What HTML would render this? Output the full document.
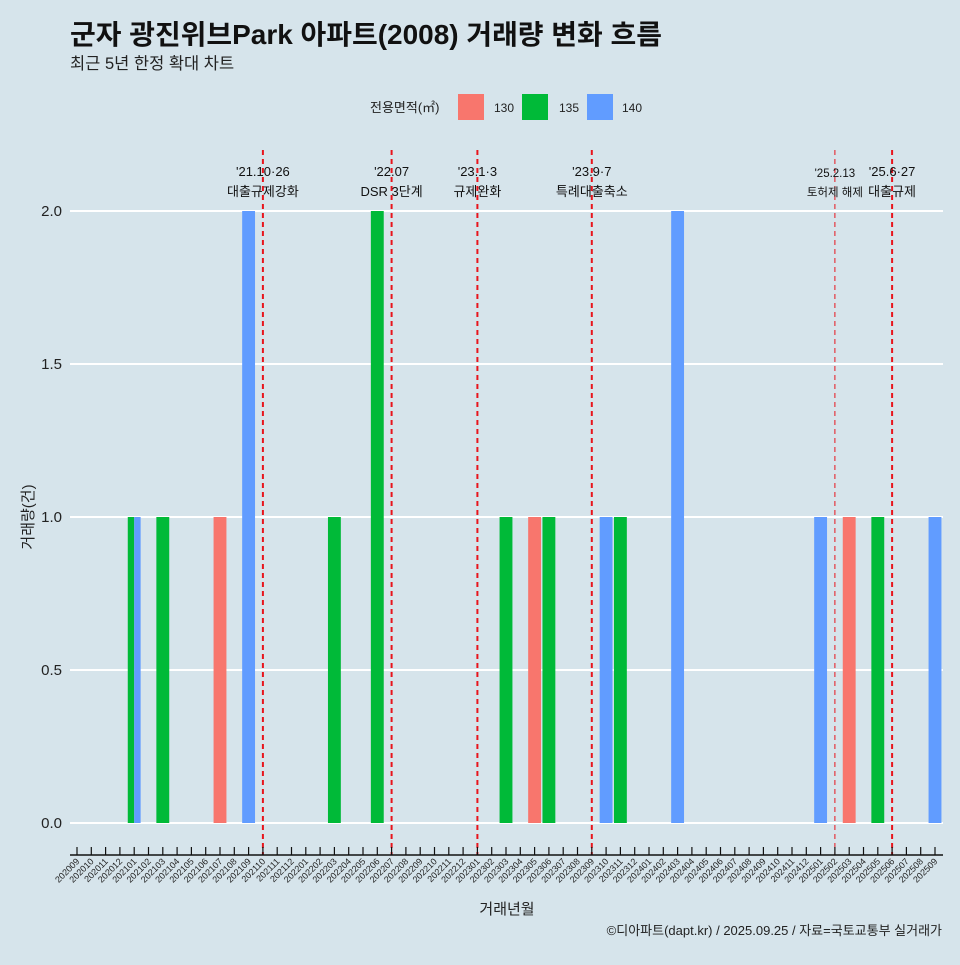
<!DOCTYPE html>
<html><head><meta charset="utf-8"><style>
body{margin:0;background:#d6e4eb;}
svg text{font-family:"Liberation Sans","Noto Sans CJK KR",sans-serif;}
</style></head><body>
<svg id="c" width="960" height="960" viewBox="0 0 960 960" xmlns="http://www.w3.org/2000/svg">
<rect width="960" height="960" fill="#d6e4eb"/>
<text x="70" y="44" font-size="27.5" font-weight="bold" fill="#111" textLength="592" lengthAdjust="spacingAndGlyphs">군자 광진위브Park 아파트(2008) 거래량 변화 흐름</text>
<text x="70" y="69" font-size="16.5" fill="#222">최근 5년 한정 확대 차트</text>
<g>
<text x="370" y="112" font-size="13" fill="#222">전용면적(㎡)</text>
<rect x="458" y="94" width="26" height="26" fill="#f8766d"/><text x="494" y="112" font-size="12" fill="#222">130</text>
<rect x="522" y="94" width="26" height="26" fill="#00ba38"/><text x="559" y="112" font-size="12" fill="#222">135</text>
<rect x="587" y="94" width="26" height="26" fill="#619cff"/><text x="622" y="112" font-size="12" fill="#222">140</text>
</g>
<g id="grid"></g><g id="bars"></g><g id="events"></g><g id="axes"></g>
<text x="507" y="914" font-size="15" text-anchor="middle" fill="#222">거래년월</text>
<text transform="translate(33,517) rotate(-90)" font-size="15" text-anchor="middle" fill="#222">거래량(건)</text>
<text x="942" y="935" font-size="13" text-anchor="end" fill="#222">©디아파트(dapt.kr) / 2025.09.25 / 자료=국토교통부 실거래가</text>
</svg>
<script>
const months=[];for(let y=2020,m=9;y*100+m<=202509;){months.push(String(y*100+m));m++;if(m>12){m=1;y++;}}
const areas=["130","135","140"];
const colors={"130":"#f8766d","135":"#00ba38","140":"#619cff"};
const tradeMonths=["202101","202101","202103","202107","202109","202203","202206","202303","202305","202306","202310","202311","202403","202501","202503","202505","202509"];
const tradeAreas =["135","140","135","130","140","135","135","135","130","135","140","135","140","140","130","135","140"];
const tradeCounts=[1,1,1,1,2,1,2,1,1,1,1,1,2,1,1,1,1];
const yTicks=[0,0.5,1,1.5,2];
const yTickLabels=["0.0","0.5","1.0","1.5","2.0"];
const eventMonths=["202110","202207","202301","202309","202502","202506"];
const eventLine1=["'21.10·26","'22.07","'23.1·3","'23.9·7","'25.2.13","'25.6·27"];
const eventLine2=["대출규제강화","DSR 3단계","규제완화","특례대출축소","토허제 해제","대출규제"];
const NS="http://www.w3.org/2000/svg";
const step=(935-77)/(months.length-1);
const xs=i=>77+i*step;
const ys=v=>823-v*306;
function mk(t,a,p){const e=document.createElementNS(NS,t);for(const k in a)e.setAttribute(k,a[k]);p.appendChild(e);return e;}
const G=document.getElementById('grid'),B=document.getElementById('bars'),E=document.getElementById('events'),A=document.getElementById('axes');
yTicks.forEach((v,i)=>{
 const l=mk('line',{x1:70,x2:943,y1:ys(v),y2:ys(v),stroke:'#fff','stroke-width':2},G);
 
 
 const t=mk('text',{x:62,y:ys(v)+5,'font-size':15,'text-anchor':'end',fill:'#222'},A);
 t.textContent=yTickLabels[i];
 
 
});
const bw=step*0.9;
months.forEach((m,i)=>{
 const idx=[];tradeMonths.forEach((tm,j)=>{if(tm===m)idx.push(j);});
 idx.sort((a,b)=>areas.indexOf(tradeAreas[a])-areas.indexOf(tradeAreas[b]));
 const w=bw/(idx.length||1);
 idx.forEach((j,k)=>{
  const r=mk('rect',{x:xs(i)-bw/2+k*w,y:ys(tradeCounts[j]),width:w,height:ys(0)-ys(tradeCounts[j]),fill:colors[tradeAreas[j]]},B);
  
  
 });
});
eventMonths.forEach((m,i)=>{
 const x=xs(months.indexOf(m));const thin=m==="202502";
 const l=mk('line',{x1:x,x2:x,y1:150,y2:855,stroke:'#e8141c','stroke-width':thin?1:2,'stroke-dasharray':'5,4'},E);
 
 
 const fs=thin?11.5:13;
 const t1=mk('text',{x:x,y:thin?177:176,'font-size':fs,'text-anchor':'middle',fill:'#111'},E);
 t1.textContent=eventLine1[i];
 
 
 const t2=mk('text',{x:x,y:196,'font-size':fs,'text-anchor':'middle',fill:'#111'},E);
 t2.textContent=eventLine2[i];
 
 
});
const ax=mk('line',{x1:70,x2:943,y1:855,y2:855,stroke:'#111','stroke-width':1.5},A);


months.forEach((m,i)=>{
 const x=xs(i);
 const tk=mk('line',{x1:x,x2:x,y1:847,y2:855,stroke:'#111','stroke-width':1.2},A);
 
 
 const t=mk('text',{x:x+3,y:862,'font-size':9,'text-anchor':'end',fill:'#222',transform:`rotate(-45 ${x+3} 862)`},A);
 t.textContent=m;
 
 
});
</script>
</body></html>
